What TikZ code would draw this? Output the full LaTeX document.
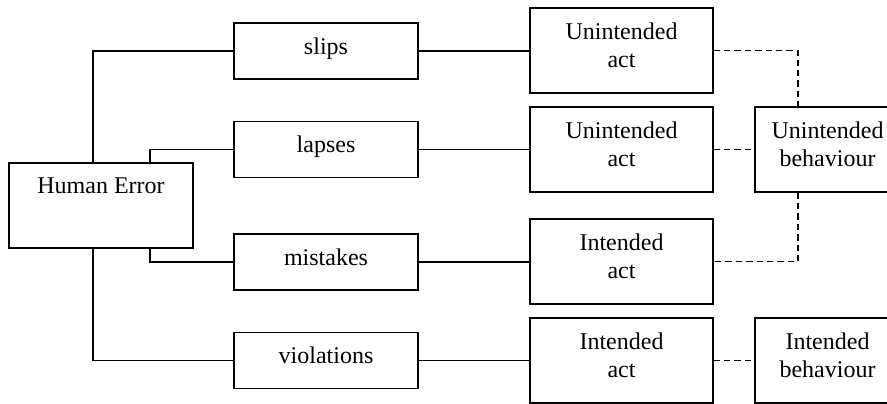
\documentclass[tikz,border=0pt]{standalone}
\usepackage{fontspec}
\setmainfont{Liberation Serif}
\begin{document}
\begin{tikzpicture}[x=0.5pt,y=-0.5pt,
  line width=0.55pt,
  box/.style={draw, inner sep=0pt, minimum width=#1},
  box/.default=92pt,
  tall/.style={minimum height=42.5pt},
  short/.style={minimum height=28pt},
  caption/.style={anchor=north, inner sep=0pt, yshift=-7.2pt, align=center,
    font=\fontsize{12}{14}\selectfont},
  dashlink/.style={dash pattern=on 3.2pt off 2pt}
]
\useasboundingbox (0,0) rectangle (887,403);
\clip (0,0) rectangle (887,403);

% root
\node[box, tall] (he) at (101,205.5) {};
\node[caption] at (he.north) {Human Error};

% error types
\node[box, short] (slips)  at (326,51)    {};
\node[box, short] (lapses) at (326,149.5) {};
\node[box, short] (mist)   at (326,262)   {};
\node[box, short] (viol)   at (326,360.5) {};
\node[caption] at (slips.north)  {slips};
\node[caption] at (lapses.north) {lapses};
\node[caption] at (mist.north)   {mistakes};
\node[caption] at (viol.north)   {violations};

% acts
\node[box=91.5pt, tall] (act1) at (621.5,50.5)  {};
\node[box=91.5pt, tall] (act2) at (621.5,149.5) {};
\node[box=91.5pt, tall] (act3) at (621.5,261.5) {};
\node[box=91.5pt, tall] (act4) at (621.5,360.5) {};
\node[caption] at (act1.north) {Unintended\\act};
\node[caption] at (act2.north) {Unintended\\act};
\node[caption] at (act3.north) {Intended\\act};
\node[caption] at (act4.north) {Intended\\act};

% behaviours
\node[box=72.5pt, tall] (ub) at (827.5,149.5) {};
\node[box=72.5pt, tall] (ib) at (827.5,360.5) {};
\node[caption] at (ub.north) {Unintended\\behaviour};
\node[caption] at (ib.north) {Intended\\behaviour};

% tree from the root
\draw ([xshift=-4pt]he.north)   |- (slips.west);
\draw ([xshift=24.5pt]he.north) |- (lapses.west);
\draw ([xshift=24.5pt]he.south) |- (mist.west);
\draw ([xshift=-4pt]he.south)   |- (viol.west);

% types to acts
\draw (slips.east)  -- (slips.east -| act1.west);
\draw (lapses.east) -- (lapses.east -| act2.west);
\draw (mist.east)   -- (mist.east -| act3.west);
\draw (viol.east)   -- (viol.east -| act4.west);

% acts to behaviours
\draw[dashlink] (act1.east) -| ([xshift=-14.75pt]ub.north);
\draw[dashlink] (act2.east) -- (ub.west);
\draw[dashlink, line width=0.9pt] ([xshift=-14.75pt]ub.south) |- (act3.east);
\draw[dashlink] (act4.east) -- (ib.west);
\end{tikzpicture}
\end{document}
